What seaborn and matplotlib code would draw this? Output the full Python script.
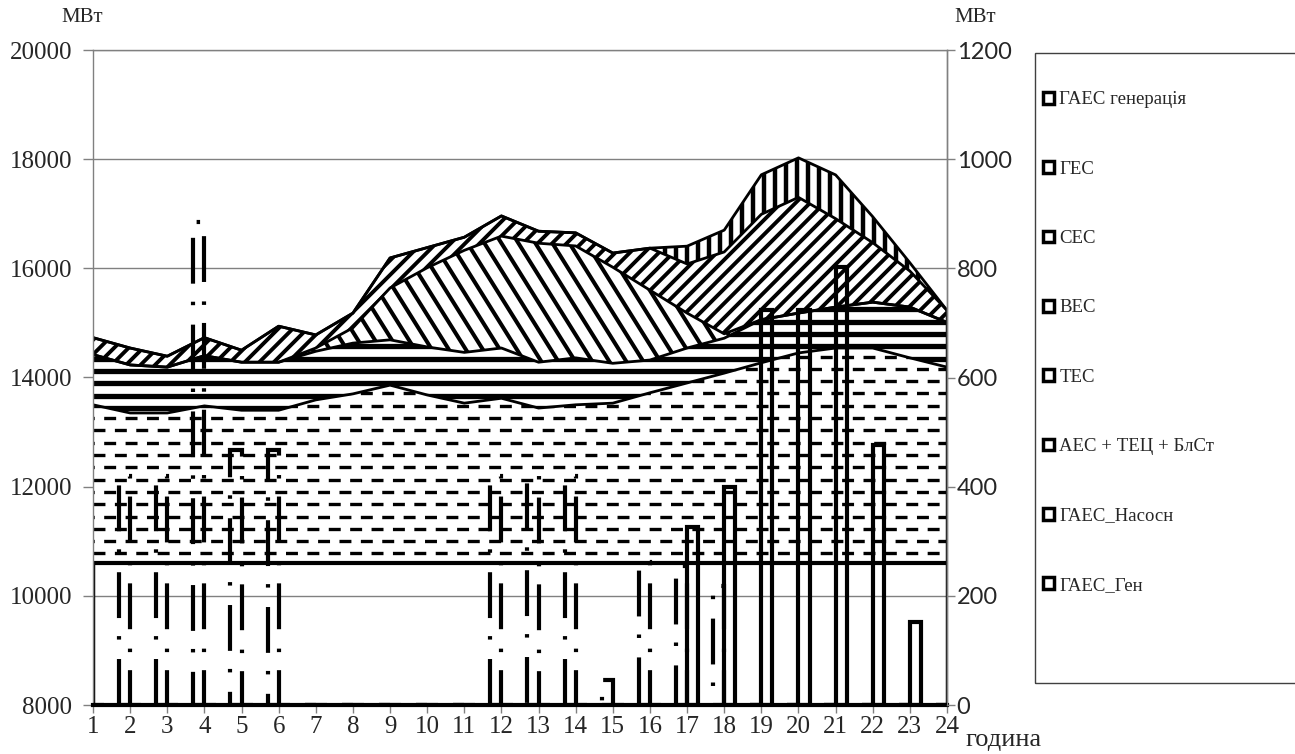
import numpy as np
import pandas as pd
import matplotlib
matplotlib.use('Agg')
import matplotlib.pyplot as plt
import seaborn as sns
from matplotlib.collections import LineCollection
from matplotlib.patches import Patch, Rectangle
from matplotlib.path import Path

# --- data (MW) ---
hours = list(range(1, 25))
aes = [10600, 10600, 10600, 10600, 10600, 10600, 10600, 10600, 10600, 10600, 10600, 10600,
       10600, 10600, 10600, 10600, 10600, 10600, 10600, 10600, 10600, 10600, 10600, 10600]
tes = [2900, 2750, 2750, 2880, 2800, 2800, 2990, 3100, 3260, 3080, 2930, 3020,
       2840, 2900, 2930, 3120, 3300, 3480, 3670, 3850, 3940, 3940, 3760, 3590]
ves = [920, 880, 840, 920, 880, 880, 890, 930, 830, 880, 930, 920,
       840, 860, 730, 600, 640, 640, 790, 730, 750, 840, 930, 820]
ses = [0, 0, 0, 0, 0, 0, 60, 280, 950, 1450, 1870, 2050,
       2180, 2050, 1760, 1280, 640, 80, 0, 0, 0, 0, 0, 0]
ges = [310, 310, 200, 330, 220, 660, 240, 270, 550, 370, 240, 370,
       220, 240, 260, 770, 900, 1500, 1930, 2120, 1620, 1090, 660, 220]
gaes_area = [0, 0, 0, 0, 0, 0, 0, 0, 0, 0, 0, 0,
             0, 0, 0, 0, 326, 400, 724, 724, 802, 476, 152, 0]
# secondary axis bars
pump = [0, 420, 420, 885, 467, 467, 0, 0, 0, 0, 0, 420,
        420, 420, 45, 262, 255, 218, 0, 0, 0, 0, 0, 0]
gen = [0, 0, 0, 0, 0, 0, 0, 0, 0, 0, 0, 0,
       0, 0, 0, 0, 326, 400, 724, 724, 802, 476, 152, 0]

layers = ['АЕС + ТЕЦ + БлСт', 'ТЕС', 'ВЕС', 'СЕС', 'ГЕС', 'ГАЕС генерація']
df = pd.DataFrame({'hour': hours, layers[0]: aes, layers[1]: tes, layers[2]: ves,
                   layers[3]: ses, layers[4]: ges, layers[5]: gaes_area})
cum = df[layers].cumsum(axis=1)

sns.set_theme(style='white')
plt.rcParams['font.family'] = ['Liberation Serif', 'DejaVu Serif']
plt.rcParams['lines.scale_dashes'] = False

fig = plt.figure(figsize=(12.95, 7.54), dpi=100)
ax = fig.add_axes([93 / 1295, 1 - 705 / 754, 854 / 1295, 655 / 754])
ax.set_xlim(1, 24)
ax.set_ylim(8000, 20000)
W, H = 854, 655  # axes size in px, for the fill patterns


def add_pattern(poly, segs, lw, ls='solid'):
    clip = Path.make_compound_path(*poly.get_paths())
    lc = LineCollection([[(x0 / W, y0 / H), (x1 / W, y1 / H)] for x0, y0, x1, y1 in segs],
                        colors='black', linewidths=lw, linestyles=ls,
                        capstyle='butt', transform=ax.transAxes, zorder=1.5)
    lc.set_clip_path(clip, poly.get_transform())
    ax.add_collection(lc, autolim=False)


def rows(step, start=0):
    return [(0, y, W, y) for y in np.arange(start, H, step)]


def cols(step):
    return [(x, 0, x, H) for x in np.arange(0, W, step)]


def diag(step, angle, up=True):
    run = H / np.tan(np.radians(angle))
    xs = np.arange(-run - step, W + step, step)
    if up:
        return [(x, 0, x + run, H) for x in xs]
    return [(x, H, x + run, 0) for x in xs]


lower = np.zeros(24)
polys = {}
for name in layers:
    upper = cum[name].values
    face = 'none' if name == layers[0] else 'white'
    polys[name] = ax.fill_between(hours, lower, upper, facecolor=face, edgecolor='none', zorder=1)
    lower = upper

# fill patterns
add_pattern(polys['ТЕС'], rows(24.6, 4), 2.4, (0, (8.6, 6.8)))
add_pattern(polys['ТЕС'], rows(24.6, 16.3), 2.4, (7.7, (8.6, 6.8)))
add_pattern(polys['ВЕС'], rows(12.3, 2), 3.8)
add_pattern(polys['СЕС'], diag(17, 58, up=False), 2.9)
add_pattern(polys['ГЕС'], diag(14.5, 45, up=True), 2.8)
add_pattern(polys['ГАЕС генерація'], cols(11), 3.2)

# boundary lines
for name in layers:
    lw = 3 if name == layers[0] else 2
    sns.lineplot(x=df['hour'], y=cum[name], ax=ax, color='black', linewidth=lw, zorder=2)
ax.vlines(hours[-1], 8000, cum[layers[-1]].iloc[-1], color='black', linewidth=2.5, zorder=2)
ax.vlines(hours[0], 8000, cum[layers[0]].iloc[0], color='black', linewidth=2.5, zorder=2)

ax.set_xlabel('')
ax.set_ylabel('')
ax.set_xticks(hours)
ax.set_xticklabels([str(h) for h in hours], fontsize=18)
ax.set_yticks(range(8000, 20001, 2000))
ax.set_yticklabels([str(v) for v in range(8000, 20001, 2000)], fontsize=18)
ax.yaxis.grid(True, color='#808080', linewidth=1)
ax.xaxis.grid(False)
ax.set_axisbelow(True)
ax.tick_params(axis='x', bottom=True, length=6, width=1, color='#808080', pad=2)
ax.tick_params(axis='y', left=True, length=7, width=1, color='#808080', pad=8)
for s in ['left', 'right', 'top']:
    ax.spines[s].set_color('#808080')
    ax.spines[s].set_linewidth(1)
ax.spines['bottom'].set_color('black')
ax.spines['bottom'].set_linewidth(3)

# secondary axis with the pumped storage bars
ax2 = ax.twinx()
ax2.set_ylim(0, 1200)
bw = 0.3
x = np.array(hours)
ax2.bar(x - bw / 2, pump, width=bw, fill=False, edgecolor='black', linewidth=3,
        linestyle=(0, (33, 13, 2.5, 14)), zorder=3)
ax2.bar(x + bw / 2, gen, width=bw, fill=False, edgecolor='black', linewidth=3, zorder=3)
ax2.set_yticks(range(0, 1201, 200))
ax2.set_yticklabels([str(v) for v in range(0, 1201, 200)], fontsize=17, family=['Lato', 'DejaVu Sans'])
ax2.tick_params(axis='y', right=True, length=6, width=1, color='#808080', pad=1)
ax2.grid(False)
for s in ['left', 'top', 'bottom']:
    ax2.spines[s].set_visible(False)
ax2.spines['right'].set_color('#808080')
ax2.spines['right'].set_linewidth(1)

fig.text(82 / 1295, 1 - 18 / 754, 'МВт', fontsize=15, ha='center', va='center')
fig.text(975 / 1295, 1 - 18 / 754, 'МВт', fontsize=15, ha='center', va='center')
fig.text(1004 / 1295, 1 - 740 / 754, 'година', fontsize=19, ha='center', va='center')

# legend
legend_names = ['ГАЕС генерація', 'ГЕС', 'СЕС', 'ВЕС', 'ТЕС', 'АЕС + ТЕЦ + БлСт', 'ГАЕС_Насосн', 'ГАЕС_Ген']
handles = [Patch(facecolor='white', edgecolor='black', linewidth=2.5) for _ in legend_names]
fig.legend(handles, legend_names, loc='upper left', bbox_to_anchor=(1035 / 1295, 1 - 84 / 754),
           frameon=False, fontsize=13.5, handlelength=0.6, handleheight=0.6,
           handletextpad=0.3, labelspacing=2.79, borderaxespad=0)
fig.add_artist(Rectangle((1035 / 1295, 1 - 683 / 754), 0.3, 630 / 754, transform=fig.transFigure,
                         fill=False, edgecolor='#404040', linewidth=1))

fig.savefig('out.png', dpi=100)
